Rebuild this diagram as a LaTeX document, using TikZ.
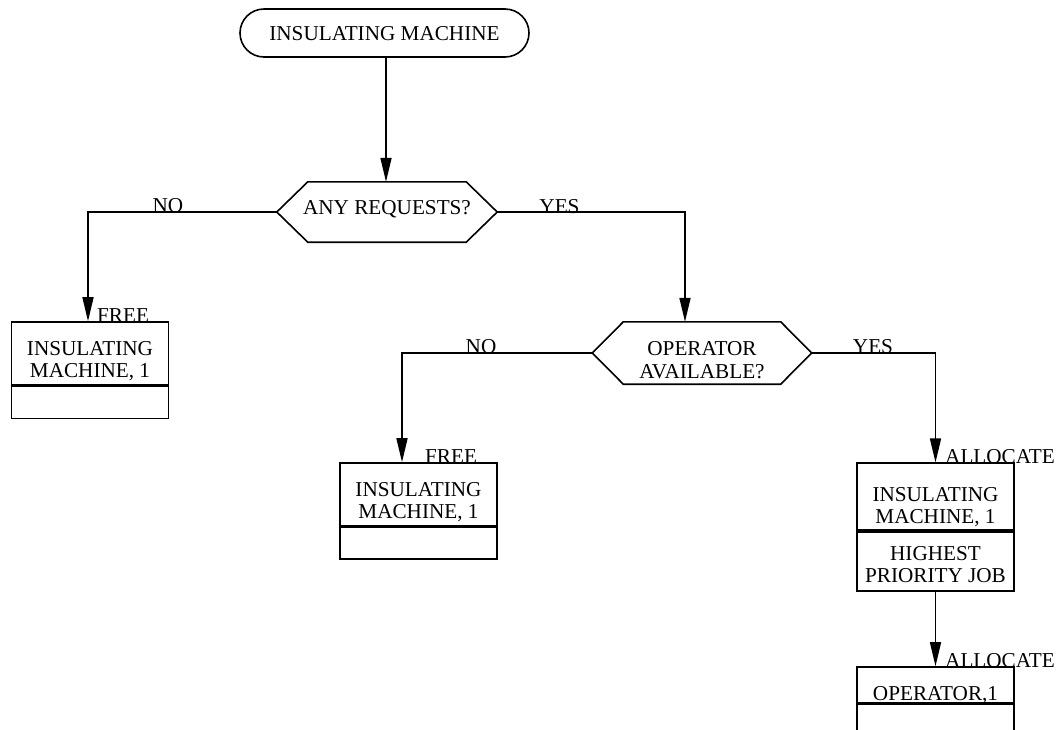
\documentclass[tikz,border=0pt]{standalone}
\usepackage{fontspec}
\setmainfont{Liberation Serif}
\usetikzlibrary{arrows.meta,shapes.misc}

\tikzset{
  every node/.style={font=\fontsize{21.2}{22.5}\selectfont, inner sep=0pt, align=center},
  stroke/.style={line width=1.6pt, black},
  flow/.style={stroke, -{Triangle[length=24pt, width=11pt]}},
  terminal/.style={draw, stroke, rounded rectangle, minimum width=289pt, minimum height=48pt,
    text height=14pt, text depth=0pt},
  decision/.style={minimum width=220pt, minimum height=60pt},
  cell/.style={draw, stroke, rectangle, minimum width=157pt},
  tag/.style={anchor=base},
  note/.style={anchor=base west},
  vshift/.style 2 args={text height=#1, text depth=#2}
}

\begin{document}
\begin{tikzpicture}[x=1pt, y=-1pt]
  \useasboundingbox (0,0) rectangle (1058,729);
  \clip (0,0) rectangle (1058,729);

  % start terminal
  \node[terminal] (start) at (384.5,33) {INSULATING MACHINE};

  % decisions (hexagons drawn around their nodes)
  \node[decision, vshift={14pt}{9pt}] (d1) at (387,212) {ANY REQUESTS?};
  \node[decision, minimum width=219pt, minimum height=62pt, vshift={50.5pt}{0pt}]
       (d2) at (702,353) {OPERATOR\\AVAILABLE?};
  \foreach \d in {d1,d2}{
    \draw[stroke] (\d.west) -- ([xshift=31pt]\d.north west) -- ([xshift=-31pt]\d.north east)
      -- (\d.east) -- ([xshift=-31pt]\d.south east) -- ([xshift=31pt]\d.south west) -- cycle;
  }

  % resource blocks: upper and lower compartments
  \node[cell, minimum height=63pt, vshift={48.5pt}{0pt}] (b1) at (90,353.5) {INSULATING\\MACHINE, 1};
  \node[cell, minimum height=32pt, anchor=north] (b1l) at (b1.south) {};

  \node[cell, minimum height=63pt, vshift={48.5pt}{0pt}] (b2) at (418.5,494.5) {INSULATING\\MACHINE, 1};
  \node[cell, minimum height=31.5pt, anchor=north] (b2l) at (b2.south) {};

  \node[cell, minimum height=67pt, vshift={54.5pt}{0pt}] (b3) at (935.5,496.7) {INSULATING\\MACHINE, 1};
  \node[cell, minimum height=59pt, anchor=north, vshift={42.5pt}{0pt}] (b3l) at (b3.south) {HIGHEST\\PRIORITY JOB};

  \node[cell, minimum height=36pt, vshift={30pt}{0pt}] (b4) at (935.5,685) {OPERATOR,1};
  \node[cell, minimum height=60pt, anchor=north] (b4l) at (b4.south) {};

  % connectors
  \draw[flow] (start.south -| 386,0) -- (d1.north -| 386,0);
  \draw[flow] (d1.west) -| (b1.north -| 88,0);
  \draw[flow] (d1.east) -| (d2.north -| 685,0);
  \draw[flow] (d2.west) -| (b2.north -| 402,0);
  \draw[flow] (d2.east) -| (b3.north);
  \draw[flow] (b3l.south) -- (b4.north);

  % branch labels
  \node[tag] (no1) at (168,212.5) {NO};
  \node[tag] (yes1) at (559.5,213) {YES};
  \node[tag] (no2) at (481,353.5) {NO};
  \node[tag] (yes2) at (873,353) {YES};

  % block action labels
  \node[note] (free1) at (97,322.3) {FREE};
  \node[note] (free2) at (425,463) {FREE};
  \node[note] (alloc1) at (945,463.3) {ALLOCATE};
  \node[note] (alloc2) at (945,667) {ALLOCATE};
\end{tikzpicture}
\end{document}
